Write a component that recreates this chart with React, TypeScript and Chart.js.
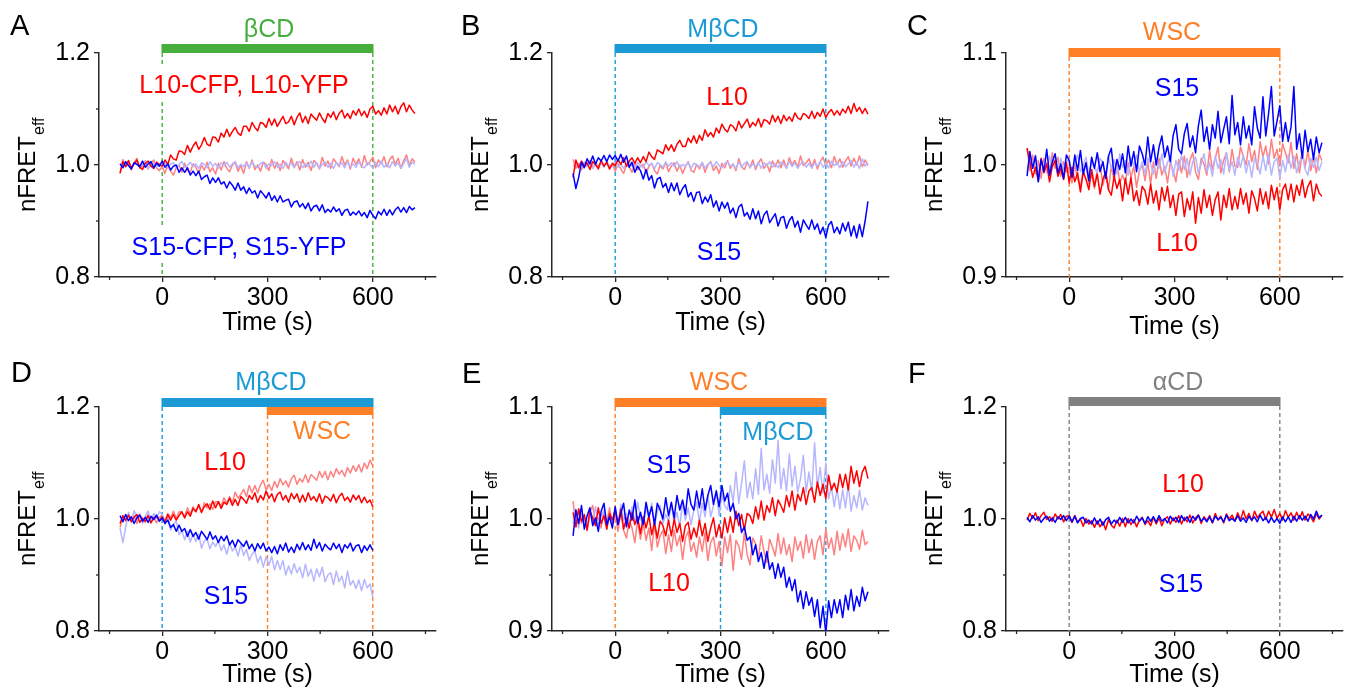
import { useEffect, useRef } from 'react';
import { Chart, registerables } from 'chart.js';

Chart.register(...registerables);

// ---------------- data ----------------
const TIME = [
  -120, -112, -104, -96, -88, -80, -72, -64, -56, -48, -40, -32, -24, -16, -8,
  0, 8, 16, 24, 32, 40, 48, 56, 64, 72,
  80, 88, 96, 104, 112, 120, 128, 136, 144, 152,
  160, 168, 176, 184, 192, 200, 208, 216, 224, 232,
  240, 248, 256, 264, 272, 280, 288, 296, 304, 312,
  320, 328, 336, 344, 352, 360, 368, 376, 384, 392,
  400, 408, 416, 424, 432, 440, 448, 456, 464, 472,
  480, 488, 496, 504, 512, 520, 528, 536, 544, 552,
  560, 568, 576, 584, 592, 600, 608, 616, 624, 632,
  640, 648, 656, 664, 672, 680, 688, 696, 704, 712, 720,
];

const X_MAJOR = [0, 300, 600];
const X_MINOR = [-150, 150, 450, 750];
const Y_MAJOR_WIDE = [0.8, 1.0, 1.2];
const Y_MINOR_WIDE = [0.9, 1.1];
const Y_MAJOR_NARROW = [0.9, 1.0, 1.1];
const Y_MINOR_NARROW = [0.95, 1.05];

// Panel A (βCD)
const A_L10 = [
  0.986, 1.006, 0.997, 1.008, 0.995, 1.002, 1.009, 0.996, 0.992, 1.003, 1.007, 0.998, 0.994, 1.005, 1.001,
  0.998, 1.009, 1.001, 1.018, 1.011, 1.009, 1.025, 1.024, 1.019, 1.035,
  1.023, 1.034, 1.041, 1.028, 1.036, 1.049, 1.037, 1.034, 1.05, 1.049,
  1.041, 1.057, 1.05, 1.064, 1.051, 1.06, 1.067, 1.057, 1.053, 1.069,
  1.069, 1.06, 1.076, 1.067, 1.061, 1.076, 1.074, 1.067, 1.083, 1.071,
  1.082, 1.069, 1.078, 1.087, 1.074, 1.077, 1.087, 1.072, 1.085, 1.093,
  1.076, 1.087, 1.074, 1.091, 1.085, 1.08, 1.093, 1.083, 1.076, 1.092,
  1.085, 1.095, 1.081, 1.092, 1.098, 1.084, 1.092, 1.083, 1.097, 1.089,
  1.1, 1.088, 1.096, 1.085, 1.1, 1.105, 1.091, 1.097, 1.089, 1.102,
  1.091, 1.107, 1.095, 1.105, 1.091, 1.104, 1.111, 1.095, 1.107, 1.098, 1.092,
];
const A_S15 = [
  1.002, 0.995, 1.006, 0.999, 0.993, 1.004, 1.001, 0.997, 1.007, 0.996, 1.002, 1.006, 0.995, 1.003, 0.998,
  1.007, 0.996, 1.002, 0.991, 0.998, 1.0, 0.987, 0.995, 0.987, 0.995,
  0.982, 0.989, 0.981, 0.989, 0.974, 0.979, 0.982, 0.967, 0.977, 0.969,
  0.977, 0.966, 0.97, 0.959, 0.97, 0.964, 0.955, 0.968, 0.955, 0.961,
  0.949, 0.959, 0.95, 0.954, 0.941, 0.954, 0.948, 0.941, 0.951, 0.937,
  0.945, 0.934, 0.945, 0.934, 0.937, 0.939, 0.925, 0.934, 0.936, 0.925,
  0.931, 0.922, 0.932, 0.918, 0.926, 0.928, 0.918, 0.929, 0.915, 0.921,
  0.916, 0.925, 0.917, 0.922, 0.91, 0.919, 0.921, 0.91, 0.916, 0.911,
  0.918, 0.909, 0.915, 0.906, 0.919, 0.91, 0.904, 0.917, 0.911, 0.921,
  0.91, 0.92, 0.911, 0.92, 0.925, 0.916, 0.924, 0.915, 0.926, 0.92, 0.924,
];
const A_L10_REF = [
  0.984, 1.01, 0.997, 1.006, 0.991, 1.004, 1.012, 0.994, 0.998, 1.008, 0.993, 1.003, 1.009, 0.995, 0.99,
  0.998, 0.985, 1.002, 0.989, 0.982, 0.995, 1.0, 0.987, 1.003, 0.99,
  0.987, 1.002, 0.996, 0.985, 1.0, 0.991, 1.005, 0.988, 0.995, 0.984,
  1.003, 0.991, 1.006, 0.994, 0.988, 1.0, 1.005, 0.989, 0.999, 0.985,
  1.006, 0.994, 1.009, 0.992, 1.0, 0.989, 1.005, 1.001, 0.99, 1.01,
  0.994, 1.005, 0.99, 1.008, 1.001, 0.993, 1.012, 0.996, 1.006, 0.991,
  1.01, 0.996, 1.005, 0.99, 1.008, 1.003, 0.993, 1.014, 0.998, 1.007,
  0.994, 1.011, 1.004, 0.997, 1.015, 1.0, 1.009, 0.993, 1.012, 1.001,
  1.011, 0.996, 1.017, 1.0, 1.006, 1.014, 0.995, 1.009, 1.002, 1.015,
  0.997, 1.01, 1.016, 1.001, 1.012, 0.994, 1.008, 1.018, 0.999, 1.011, 1.005,
];
const A_S15_REF = [
  1.003, 0.996, 1.005, 0.999, 0.994, 1.002, 1.004, 0.997, 1.001, 1.006, 0.995, 0.998, 1.004, 0.996, 1.002,
  0.997, 1.005, 0.994, 1.002, 1.004, 0.995, 1.001, 1.006, 0.996, 0.999,
  1.005, 0.997, 1.002, 0.994, 1.004, 1.001, 0.995, 1.006, 0.998, 1.003,
  0.994, 1.004, 0.999, 1.005, 0.996, 1.002, 1.006, 0.995, 1.001, 0.997,
  1.004, 0.995, 1.006, 0.998, 0.996, 1.003, 1.005, 0.994, 1.002, 0.999,
  1.006, 0.996, 1.001, 0.994, 1.005, 0.998, 1.004, 0.995, 1.003, 1.006,
  0.995, 1.002, 0.997, 1.007, 0.996, 1.004, 0.994, 1.001, 1.005, 0.996,
  1.003, 0.994, 1.005, 0.999, 1.004, 0.995, 1.006, 0.997, 1.002, 0.996,
  1.006, 0.998, 0.995, 1.004, 1.001, 0.994, 1.005, 0.997, 1.007, 0.996,
  1.002, 0.995, 1.006, 0.998, 1.004, 0.994, 1.003, 1.012, 0.996, 1.005, 1.001,
];

// Panel B (MβCD)
const B_L10 = [
  0.978, 1.009, 0.995, 1.007, 0.997, 1.004, 0.992, 1.006, 1.001, 0.994, 1.008, 0.998, 1.005, 0.993, 1.003,
  0.999, 1.01, 1.001, 1.013, 0.998, 1.007, 1.013, 1.003, 1.013, 1.004,
  1.015, 1.006, 1.023, 1.015, 1.01, 1.027, 1.024, 1.02, 1.036, 1.026,
  1.036, 1.024, 1.037, 1.044, 1.033, 1.033, 1.048, 1.04, 1.052, 1.039,
  1.053, 1.044, 1.063, 1.051, 1.058, 1.05, 1.066, 1.057, 1.073, 1.064,
  1.059, 1.072, 1.069, 1.061, 1.078, 1.066, 1.074, 1.082, 1.067, 1.076,
  1.07, 1.083, 1.068, 1.081, 1.079, 1.073, 1.089, 1.077, 1.087, 1.074,
  1.089, 1.079, 1.086, 1.078, 1.093, 1.084, 1.081, 1.092, 1.089, 1.083,
  1.096, 1.083, 1.094, 1.087, 1.1, 1.085, 1.094, 1.099, 1.089, 1.097,
  1.089, 1.1, 1.093, 1.105, 1.092, 1.11, 1.096, 1.103, 1.092, 1.101, 1.091,
];
const B_S15 = [
  0.985, 0.958, 0.978, 1.005, 0.995, 1.011, 1.002, 1.016, 1.002, 1.013, 1.007, 1.017, 1.006, 1.018, 1.01,
  1.017, 1.007, 1.019, 1.005, 1.016, 0.996, 1.005, 0.987, 0.998, 0.99,
  0.975, 0.992, 0.973, 0.981, 0.959, 0.975, 0.978, 0.96, 0.967, 0.951,
  0.968, 0.954, 0.968, 0.947, 0.958, 0.965, 0.943, 0.951, 0.935, 0.951,
  0.952, 0.931, 0.943, 0.934, 0.947, 0.925, 0.936, 0.918, 0.934, 0.923,
  0.933, 0.914, 0.923, 0.906, 0.925, 0.93, 0.909, 0.915, 0.903, 0.922,
  0.904, 0.918, 0.895, 0.911, 0.918, 0.897, 0.905, 0.913, 0.891, 0.906,
  0.908, 0.887, 0.901, 0.908, 0.889, 0.9, 0.88, 0.902, 0.893, 0.885,
  0.902, 0.885, 0.895, 0.877, 0.889, 0.871, 0.893, 0.899, 0.879, 0.889,
  0.877, 0.896, 0.882, 0.898, 0.873, 0.891, 0.87, 0.894, 0.872, 0.9, 0.935,
];
const B_L10_REF = [
  1.01, 0.994, 1.003, 0.991, 1.005, 0.998, 1.008, 0.995, 1.001, 0.992, 1.006, 0.997, 1.004, 0.993, 1.002,
  0.989, 1.002, 0.993, 0.985, 1.0, 0.996, 0.987, 1.004, 0.991, 0.998,
  1.001, 0.986, 0.997, 1.003, 0.99, 0.984, 0.999, 0.993, 1.005, 0.988,
  0.998, 1.004, 0.989, 1.0, 0.985, 0.997, 1.006, 0.991, 0.987, 1.001,
  0.993, 1.004, 0.987, 1.0, 1.006, 0.99, 0.998, 0.985, 1.003, 0.995,
  1.008, 0.994, 1.002, 0.99, 1.011, 0.997, 0.992, 1.005, 0.995, 1.009,
  0.992, 1.004, 1.011, 0.994, 1.002, 0.988, 1.007, 0.997, 1.009, 0.995,
  1.009, 0.994, 1.013, 1.001, 1.008, 0.996, 1.016, 0.999, 1.004, 1.011,
  0.997, 1.01, 0.993, 1.006, 1.014, 0.999, 1.009, 0.995, 1.015, 1.001,
  1.011, 0.996, 1.007, 1.015, 0.998, 1.012, 1.0, 1.016, 0.997, 1.009, 0.999,
];
const B_S15_REF = [
  0.998, 1.004, 0.995, 1.001, 1.005, 0.997, 1.002, 0.994, 1.004, 0.999, 1.003, 0.996, 1.006, 0.998, 1.001,
  1.005, 0.996, 1.002, 0.994, 1.003, 1.006, 0.998, 0.995, 1.004, 0.999,
  0.995, 1.006, 0.999, 1.003, 0.994, 1.004, 1.001, 0.996, 1.005, 0.998,
  1.004, 0.997, 1.006, 0.995, 1.001, 0.998, 1.005, 0.994, 1.003, 1.001,
  0.996, 1.005, 0.994, 1.002, 1.004, 0.997, 1.006, 0.999, 0.995, 1.003,
  1.006, 0.998, 1.001, 0.994, 1.005, 0.996, 1.003, 1.006, 0.995, 1.002,
  0.997, 1.005, 0.994, 1.004, 0.999, 1.006, 0.996, 1.002, 0.995, 1.005,
  1.001, 0.995, 1.006, 0.997, 1.004, 0.994, 1.002, 1.005, 0.996, 1.003,
  0.994, 1.004, 0.998, 1.006, 0.996, 1.003, 0.995, 1.007, 0.999, 1.004,
  0.995, 1.006, 0.997, 1.002, 1.008, 0.996, 1.005, 0.994, 1.011, 0.998, 1.004,
];

// Panel C (WSC)
const C_S15 = [
  0.99, 1.012, 0.997, 1.008, 0.985, 1.005, 0.994, 1.014, 0.991, 1.003, 1.01, 0.993, 1.001, 0.988, 1.009,
  1.004, 0.989, 1.009, 0.995, 1.013, 0.992, 1.002, 0.986, 1.007, 0.997,
  1.011, 0.994, 1.003, 0.988, 1.008, 1.015, 0.991, 1.005, 0.996, 1.01,
  0.993, 1.017, 0.999, 1.012, 0.994, 1.017, 1.01, 1.0, 1.025, 1.003,
  1.018, 1.0, 1.016, 1.026, 1.007, 1.017, 1.003, 1.026, 1.036, 1.014,
  1.01, 1.028, 1.037, 1.016, 1.026, 1.011, 1.035, 1.049, 1.021, 1.034,
  1.014, 1.036, 1.024, 1.048, 1.02, 1.032, 1.043, 1.019, 1.062, 1.027,
  1.038, 1.018, 1.043, 1.024, 1.035, 1.018, 1.052, 1.033, 1.024, 1.061,
  1.026, 1.046, 1.07, 1.026, 1.039, 1.053, 1.021, 1.038, 1.021, 1.034,
  1.07, 1.014, 1.028, 1.006, 1.031, 1.012, 1.023, 1.005, 1.025, 1.011, 1.02,
];
const C_L10 = [
  1.015, 1.003, 0.989, 0.998, 0.986, 1.006, 0.993, 1.001, 0.985, 0.999, 1.004, 0.99, 0.997, 0.987, 1.002,
  0.984, 0.998, 0.985, 0.993, 0.976, 0.994, 0.987, 0.978, 0.996, 0.981,
  0.992, 0.974, 0.987, 0.994, 0.978, 0.973, 0.99, 0.979, 0.987, 0.968,
  0.988, 0.974, 0.989, 0.968, 0.977, 0.964, 0.981, 0.977, 0.965, 0.983,
  0.966, 0.977, 0.96, 0.98, 0.968, 0.981, 0.962, 0.973, 0.955, 0.974,
  0.976, 0.954, 0.97, 0.96, 0.976, 0.948, 0.971, 0.957, 0.978, 0.962,
  0.973, 0.955, 0.969, 0.976, 0.951, 0.973, 0.962, 0.979, 0.96, 0.972,
  0.961, 0.979, 0.965, 0.975, 0.957, 0.977, 0.97, 0.959, 0.979, 0.965,
  0.976, 0.961, 0.982, 0.969, 0.98, 0.96, 0.978, 0.983, 0.969, 0.983,
  0.967, 0.982, 0.973, 0.987, 0.971, 0.981, 0.986, 0.968, 0.983, 0.975, 0.972,
];
const C_L10_REF = [
  1.015, 0.995, 1.009, 0.992, 1.004, 0.988, 1.006, 1.001, 0.991, 1.011, 0.997, 1.007, 0.99, 1.003, 0.994,
  0.998, 0.984, 1.001, 0.987, 0.981, 0.995, 1.002, 0.983, 0.992, 0.979,
  0.996, 1.0, 0.982, 0.993, 0.978, 0.999, 0.986, 1.003, 0.984, 0.991,
  0.984, 1.002, 0.989, 0.999, 0.98, 0.995, 1.0, 0.986, 1.003, 0.983,
  1.003, 0.988, 1.006, 0.991, 0.999, 0.984, 1.002, 0.995, 0.985, 1.005,
  0.993, 1.008, 0.989, 1.004, 1.011, 0.994, 0.987, 1.006, 1.001, 0.991,
  1.013, 0.996, 1.006, 1.016, 0.993, 1.004, 1.011, 0.994, 1.014, 0.999,
  0.998, 1.016, 1.008, 1.0, 1.019, 1.003, 1.013, 0.996, 1.021, 1.007,
  1.017, 1.001, 1.023, 1.006, 1.014, 0.999, 1.019, 1.011, 1.002, 1.02,
  0.997, 1.01, 0.993, 1.012, 0.998, 1.013, 0.995, 1.007, 0.993, 1.01, 1.004,
];
const C_S15_REF = [
  0.994, 1.007, 0.997, 1.009, 0.991, 1.004, 1.001, 0.993, 1.008, 0.998, 1.005, 0.99, 1.006, 0.996, 1.003,
  1.005, 0.992, 1.002, 1.009, 0.994, 0.999, 1.007, 0.991, 1.004, 0.997,
  0.993, 1.006, 1.002, 0.99, 1.008, 0.997, 1.005, 0.992, 1.01, 0.998,
  1.004, 0.991, 1.007, 0.999, 1.009, 0.994, 1.003, 0.992, 1.006, 1.001,
  0.992, 1.005, 0.997, 1.01, 0.993, 1.002, 1.008, 0.99, 1.004, 0.995,
  1.009, 0.996, 1.006, 0.991, 1.003, 1.007, 0.993, 1.001, 1.01, 0.994,
  1.002, 0.99, 1.008, 0.997, 1.005, 0.992, 1.011, 0.995, 1.003, 0.991,
  1.007, 0.998, 1.009, 0.993, 1.004, 0.989, 1.006, 1.001, 0.992, 1.008,
  0.995, 1.01, 0.991, 1.003, 1.006, 0.988, 1.004, 0.994, 1.009, 0.997,
  1.008, 0.993, 1.002, 1.01, 0.996, 0.991, 1.006, 0.998, 1.007, 0.995, 1.003,
];

// Panel D (MβCD then WSC), recorded to 600 s
const D_L10 = [
  0.992, 1.006, 0.998, 1.007, 0.995, 1.003, 1.008, 0.994, 1.001, 0.996, 1.006, 0.993, 1.002, 1.005, 0.997,
  1.004, 0.994, 1.008, 0.998, 1.008, 0.998, 1.006, 1.013, 1.002, 1.013,
  1.005, 1.019, 1.013, 1.026, 1.012, 1.022, 1.027, 1.017, 1.032, 1.02,
  1.031, 1.019, 1.03, 1.026, 1.037, 1.024, 1.035, 1.024, 1.04, 1.035,
  1.028, 1.042, 1.035, 1.047, 1.03, 1.042, 1.034, 1.05, 1.037, 1.045,
  1.031, 1.044, 1.048, 1.034, 1.042, 1.03, 1.046, 1.036, 1.045, 1.03,
  1.043, 1.031, 1.047, 1.034, 1.04, 1.031, 1.045, 1.028, 1.041, 1.038,
  1.032, 1.044, 1.029, 1.04, 1.046, 1.033, 1.039, 1.03, 1.043, 1.034,
  1.042, 1.029, 1.039, 1.029, 1.034, 1.022,
];
const D_S15 = [
  1.006, 0.995, 1.008, 0.997, 1.004, 0.992, 1.002, 1.007, 0.996, 1.003, 0.994, 1.005, 0.999, 1.007, 0.996,
  1.002, 0.992, 0.998, 0.985, 0.99, 0.978, 0.989, 0.978, 0.983, 0.969,
  0.981, 0.969, 0.976, 0.964, 0.978, 0.971, 0.963, 0.977, 0.964, 0.97,
  0.958, 0.969, 0.961, 0.97, 0.954, 0.962, 0.95, 0.963, 0.957, 0.951,
  0.961, 0.947, 0.955, 0.943, 0.956, 0.947, 0.957, 0.943, 0.95, 0.94,
  0.951, 0.938, 0.954, 0.944, 0.957, 0.941, 0.95, 0.94, 0.955, 0.945,
  0.958, 0.945, 0.954, 0.944, 0.964, 0.948, 0.958, 0.943, 0.955, 0.949,
  0.945, 0.957, 0.947, 0.955, 0.94, 0.954, 0.948, 0.957, 0.943, 0.952,
  0.954, 0.94, 0.952, 0.944, 0.954, 0.944,
];
const D_L10_REF = [
  0.985, 1.005, 0.996, 1.009, 0.997, 1.006, 0.992, 1.007, 1.002, 0.994, 1.008, 0.998, 1.004, 0.993, 1.003,
  1.007, 0.997, 1.01, 1.002, 1.014, 1.001, 1.013, 1.012, 1.004, 1.02,
  1.009, 1.022, 1.013, 1.024, 1.011, 1.029, 1.02, 1.027, 1.017, 1.031,
  1.031, 1.023, 1.038, 1.028, 1.04, 1.029, 1.048, 1.037, 1.044, 1.053,
  1.04, 1.06, 1.047, 1.06, 1.047, 1.061, 1.069, 1.052, 1.062, 1.051,
  1.067, 1.056, 1.072, 1.061, 1.068, 1.057, 1.072, 1.078, 1.062, 1.072,
  1.066, 1.079, 1.065, 1.079, 1.075, 1.069, 1.085, 1.074, 1.085, 1.07,
  1.085, 1.075, 1.09, 1.08, 1.087, 1.076, 1.092, 1.082, 1.095, 1.085,
  1.097, 1.084, 1.1, 1.09, 1.105, 1.095,
];
const D_S15_REF = [
  0.984, 0.958, 0.985, 1.012, 0.994, 1.015, 1.002, 1.009, 0.992, 1.005, 1.014, 0.996, 1.01, 1.001, 1.013,
  1.008, 0.991, 1.005, 0.98, 0.99, 0.996, 0.972, 0.979, 0.963, 0.979,
  0.959, 0.973, 0.96, 0.973, 0.948, 0.961, 0.964, 0.947, 0.959, 0.951,
  0.961, 0.944, 0.954, 0.937, 0.957, 0.943, 0.95, 0.934, 0.954, 0.935,
  0.946, 0.926, 0.937, 0.943, 0.922, 0.934, 0.914, 0.933, 0.918, 0.933,
  0.909, 0.926, 0.91, 0.926, 0.9, 0.916, 0.902, 0.92, 0.904, 0.914,
  0.895, 0.919, 0.898, 0.91, 0.889, 0.911, 0.897, 0.914, 0.888, 0.9,
  0.904, 0.883, 0.907, 0.888, 0.898, 0.877, 0.907, 0.882, 0.89, 0.876,
  0.891, 0.872, 0.892, 0.877, 0.884, 0.86,
];

// Panel E (WSC then MβCD)
const E_S15 = [
  0.985, 1.008, 0.996, 1.012, 0.991, 1.003, 1.01, 0.994, 1.001, 0.989, 1.007, 1.014, 0.995, 1.002, 0.992,
  1.011, 0.995, 1.005, 1.014, 0.993, 1.008, 0.999, 1.017, 0.996, 1.006,
  0.995, 1.015, 1.002, 1.011, 0.995, 1.014, 1.008, 1.0, 1.019, 1.003,
  1.015, 1.001, 1.021, 1.008, 1.017, 1.004, 1.027, 1.013, 1.008, 1.025,
  1.01, 1.027, 1.008, 1.021, 1.03, 1.013, 1.025, 1.011, 1.03, 1.016,
  1.023, 1.007, 1.014, 1.0, 1.005, 0.988, 0.993, 0.981, 0.984, 0.968,
  0.977, 0.962, 0.97, 0.956, 0.971, 0.955, 0.961, 0.947, 0.96, 0.948,
  0.957, 0.939, 0.948, 0.936, 0.946, 0.926, 0.936, 0.92, 0.935, 0.923,
  0.93, 0.913, 0.928, 0.903, 0.922, 0.898, 0.927, 0.912, 0.928, 0.916,
  0.928, 0.912, 0.932, 0.919, 0.937, 0.918, 0.931, 0.922, 0.939, 0.927, 0.935,
];
const E_L10 = [
  1.006, 0.993, 1.009, 0.998, 1.004, 0.99, 1.007, 1.001, 0.994, 1.01, 0.996, 1.003, 0.991, 1.005, 0.999,
  1.008, 0.995, 1.009, 0.991, 1.001, 0.992, 1.006, 0.995, 1.002, 0.987,
  1.002, 0.992, 1.003, 0.986, 0.997, 0.983, 0.998, 0.994, 0.985, 0.999,
  0.985, 1.0, 0.988, 0.996, 0.98, 0.994, 0.997, 0.982, 0.992, 0.984,
  0.999, 0.985, 0.996, 0.98, 0.992, 1.001, 0.984, 0.995, 0.983, 1.001,
  0.988, 1.002, 0.988, 1.007, 0.994, 1.004, 0.99, 1.005, 1.003, 0.996,
  1.011, 1.0, 1.016, 0.999, 1.012, 1.006, 1.019, 1.003, 1.017, 1.012,
  1.006, 1.021, 1.011, 1.025, 1.008, 1.022, 1.016, 1.028, 1.013, 1.025,
  1.028, 1.015, 1.033, 1.021, 1.031, 1.018, 1.039, 1.026, 1.032, 1.024,
  1.04, 1.028, 1.04, 1.026, 1.047, 1.032, 1.043, 1.029, 1.042, 1.047, 1.036,
];
const E_L10_REF = [
  1.016, 0.993, 1.009, 0.996, 1.003, 0.99, 1.006, 1.012, 0.995, 1.001, 0.992, 1.007, 0.997, 1.01, 0.994,
  1.005, 0.989, 1.006, 0.99, 0.983, 0.999, 0.992, 0.979, 0.999, 0.982,
  0.996, 0.981, 0.992, 0.972, 0.996, 0.975, 0.985, 0.99, 0.969, 0.986,
  0.971, 0.99, 0.976, 0.985, 0.964, 0.983, 0.989, 0.971, 0.979, 0.966,
  0.984, 0.971, 0.988, 0.963, 0.979, 0.984, 0.967, 0.98, 0.958, 0.984,
  0.97, 0.986, 0.954, 0.981, 0.976, 0.964, 0.988, 0.968, 0.959, 0.983,
  0.978, 0.965, 0.985, 0.971, 0.961, 0.982, 0.975, 0.967, 0.987, 0.969,
  0.983, 0.968, 0.977, 0.962, 0.984, 0.972, 0.98, 0.965, 0.986, 0.97,
  0.982, 0.964, 0.98, 0.985, 0.968, 0.991, 0.974, 0.983, 0.968, 0.989,
  0.972, 0.987, 0.975, 0.991, 0.971, 0.985, 0.981, 0.973, 0.99, 0.977, 0.98,
];
const E_S15_REF = [
  0.996, 1.009, 0.992, 1.005, 1.001, 0.99, 1.007, 0.997, 1.011, 0.994, 1.002, 1.008, 0.991, 1.004, 0.998,
  1.009, 0.994, 1.013, 0.999, 1.005, 0.992, 1.011, 0.997, 1.015, 1.0,
  0.995, 1.01, 1.001, 1.014, 0.993, 1.007, 1.012, 0.996, 1.004, 0.998,
  1.013, 0.997, 1.006, 0.993, 1.016, 0.999, 1.01, 0.995, 1.008, 1.015,
  0.997, 1.014, 1.002, 1.021, 1.002, 1.012, 1.026, 1.003, 1.022, 1.012,
  1.008, 1.03, 1.015, 1.042, 1.014, 1.032, 1.052, 1.019, 1.033, 1.018,
  1.045, 1.022, 1.063, 1.026, 1.04, 1.023, 1.053, 1.032, 1.07, 1.027,
  1.045, 1.025, 1.058, 1.029, 1.047, 1.024, 1.036, 1.057, 1.024, 1.042,
  1.024, 1.068, 1.028, 1.046, 1.023, 1.05, 1.018, 1.029, 1.011, 1.027,
  1.009, 1.026, 1.01, 1.031, 1.007, 1.021, 1.01, 1.026, 1.008, 1.019, 1.012,
];

// Panel F (αCD)
const F_L10 = [
  0.998, 1.01, 1.001, 1.011, 0.997, 1.006, 1.012, 0.999, 1.004, 0.996, 1.009, 1.0, 1.008, 0.995, 1.005,
  1.006, 0.994, 1.006, 0.994, 1.0, 0.987, 1.001, 0.991, 0.997, 0.985,
  0.997, 0.986, 0.995, 0.981, 0.999, 0.989, 0.984, 0.998, 0.987, 1.001,
  0.986, 1.001, 0.99, 0.999, 0.986, 0.998, 1.003, 0.99, 0.997, 0.988,
  1.003, 0.991, 1.002, 0.988, 1.0, 1.004, 0.991, 1.002, 0.994, 1.006,
  0.991, 1.003, 0.995, 1.007, 0.993, 1.002, 1.007, 0.992, 1.004, 0.997,
  1.006, 0.993, 1.01, 0.998, 1.005, 0.993, 1.009, 1.0, 1.007, 0.996,
  1.011, 0.998, 1.015, 1.0, 1.01, 0.997, 1.014, 1.002, 1.009, 1.014,
  0.999, 1.014, 1.003, 1.017, 1.001, 1.01, 0.998, 1.015, 1.003, 1.011,
  0.998, 1.012, 1.0, 1.013, 0.998, 1.009, 1.004, 0.995, 1.01, 1.0, 1.007,
];
const F_S15 = [
  1.003, 0.995, 1.006, 0.998, 1.004, 0.994, 1.001, 1.005, 0.996, 1.002, 0.994, 1.004, 0.999, 1.006, 0.997,
  1.005, 0.995, 1.005, 0.993, 1.001, 1.003, 0.993, 0.998, 0.991, 1.002,
  0.991, 1.0, 0.989, 0.999, 1.003, 0.991, 0.998, 0.993, 1.003, 0.994,
  1.003, 0.993, 1.0, 0.993, 1.005, 0.996, 1.002, 0.992, 1.004, 0.996,
  1.004, 0.994, 1.006, 0.996, 1.001, 0.993, 1.005, 0.997, 1.003, 0.994,
  1.006, 0.997, 1.004, 0.994, 1.005, 0.998, 1.007, 0.996, 1.002, 0.995,
  1.004, 0.994, 1.005, 0.999, 1.003, 0.995, 1.007, 0.997, 1.001, 0.996,
  1.006, 0.996, 1.002, 0.994, 1.005, 0.998, 1.004, 0.995, 1.007, 0.997,
  1.003, 0.993, 1.003, 0.994, 1.001, 0.992, 1.004, 0.995, 1.004, 0.994,
  1.005, 0.996, 1.006, 0.998, 1.005, 0.996, 1.008, 1.0, 1.014, 1.002, 1.007,
];

// ---------------- styles ----------------
const FONT = '"Liberation Sans", Arial, Helvetica, sans-serif';
const RED = '#ff0000';
const BLUE = '#0000ff';
const PINK = '#ff8080';
const LAVENDER = '#b6b6ff';
const GREEN = '#45ae3c';
const CYAN = '#1b9ad6';
const ORANGE = '#ff7f27';
const GREY = '#808080';
const AXIS = '#262626';

type Series = { data: number[]; color: string };
type Bar = { from: number; to: number; y0: number; y1: number; color: string };
type Dash = { at: number; y0: number; color: string };
type Label = { text: string; cx: number; by: number; color: string; bg?: boolean };
type Panel = {
  id: string;
  ox: number;
  oy: number;
  letterX: number;
  letterY: number;
  timeY: number;
  yMin: number;
  yMax: number;
  yMajor: number[];
  yMinor: number[];
  series: Series[];
  bars: Bar[];
  dashes: Dash[];
  labels: Label[];
};

const CW = 450;
const CH = 345;

const PANELS: Panel[] = [
  {
    id: 'A', ox: 0, oy: 0, letterX: 10, letterY: 35, timeY: 330,
    yMin: 0.8, yMax: 1.2, yMajor: Y_MAJOR_WIDE, yMinor: Y_MINOR_WIDE,
    series: [
      { data: A_S15, color: BLUE }, { data: A_L10, color: RED },
      { data: A_S15_REF, color: LAVENDER }, { data: A_L10_REF, color: PINK },
    ],
    bars: [{ from: 0, to: 600, y0: 44, y1: 53, color: GREEN }],
    dashes: [{ at: 0, y0: 53, color: GREEN }, { at: 600, y0: 53, color: GREEN }],
    labels: [
      { text: 'βCD', cx: 269, by: 37, color: GREEN },
      { text: 'L10-CFP, L10-YFP', cx: 244, by: 93, color: RED, bg: true },
      { text: 'S15-CFP, S15-YFP', cx: 239, by: 255, color: BLUE, bg: true },
    ],
  },
  {
    id: 'B', ox: 453, oy: 0, letterX: 461, letterY: 35, timeY: 330,
    yMin: 0.8, yMax: 1.2, yMajor: Y_MAJOR_WIDE, yMinor: Y_MINOR_WIDE,
    series: [
      { data: B_S15, color: BLUE }, { data: B_L10, color: RED },
      { data: B_S15_REF, color: LAVENDER }, { data: B_L10_REF, color: PINK },
    ],
    bars: [{ from: 0, to: 600, y0: 44, y1: 53, color: CYAN }],
    dashes: [{ at: 0, y0: 53, color: CYAN }, { at: 600, y0: 53, color: CYAN }],
    labels: [
      { text: 'MβCD', cx: 723, by: 37, color: CYAN },
      { text: 'L10', cx: 727, by: 105, color: RED },
      { text: 'S15', cx: 719, by: 260, color: BLUE },
    ],
  },
  {
    id: 'C', ox: 907, oy: 0, letterX: 907, letterY: 35, timeY: 334,
    yMin: 0.9, yMax: 1.1, yMajor: Y_MAJOR_NARROW, yMinor: Y_MINOR_NARROW,
    series: [
      { data: C_S15, color: BLUE }, { data: C_L10, color: RED },
      { data: C_S15_REF, color: LAVENDER }, { data: C_L10_REF, color: PINK },
    ],
    bars: [{ from: 0, to: 600, y0: 48, y1: 57, color: ORANGE }],
    dashes: [{ at: 0, y0: 57, color: ORANGE }, { at: 600, y0: 57, color: ORANGE }],
    labels: [
      { text: 'WSC', cx: 1172, by: 40, color: ORANGE },
      { text: 'S15', cx: 1177, by: 96, color: BLUE },
      { text: 'L10', cx: 1177, by: 251, color: RED },
    ],
  },
  {
    id: 'D', ox: 0, oy: 354, letterX: 11, letterY: 382, timeY: 682,
    yMin: 0.8, yMax: 1.2, yMajor: Y_MAJOR_WIDE, yMinor: Y_MINOR_WIDE,
    series: [
      { data: D_S15, color: BLUE }, { data: D_L10, color: RED },
      { data: D_S15_REF, color: LAVENDER }, { data: D_L10_REF, color: PINK },
    ],
    bars: [
      { from: 0, to: 600, y0: 398, y1: 407, color: CYAN },
      { from: 300, to: 600, y0: 407, y1: 415, color: ORANGE },
    ],
    dashes: [
      { at: 0, y0: 407, color: CYAN },
      { at: 300, y0: 415, color: ORANGE },
      { at: 600, y0: 415, color: ORANGE },
    ],
    labels: [
      { text: 'MβCD', cx: 271, by: 390, color: CYAN },
      { text: 'WSC', cx: 322, by: 439, color: ORANGE },
      { text: 'L10', cx: 225, by: 470, color: RED },
      { text: 'S15', cx: 226, by: 604, color: BLUE },
    ],
  },
  {
    id: 'E', ox: 453, oy: 354, letterX: 462, letterY: 383, timeY: 682,
    yMin: 0.9, yMax: 1.1, yMajor: Y_MAJOR_NARROW, yMinor: Y_MINOR_NARROW,
    series: [
      { data: E_S15, color: BLUE }, { data: E_L10, color: RED },
      { data: E_S15_REF, color: LAVENDER }, { data: E_L10_REF, color: PINK },
    ],
    bars: [
      { from: 0, to: 600, y0: 398, y1: 407, color: ORANGE },
      { from: 300, to: 600, y0: 407, y1: 415, color: CYAN },
    ],
    dashes: [
      { at: 0, y0: 407, color: ORANGE },
      { at: 300, y0: 415, color: CYAN },
      { at: 600, y0: 415, color: CYAN },
    ],
    labels: [
      { text: 'WSC', cx: 719, by: 390, color: ORANGE },
      { text: 'MβCD', cx: 778, by: 440, color: CYAN },
      { text: 'S15', cx: 669, by: 473, color: BLUE },
      { text: 'L10', cx: 669, by: 591, color: RED },
    ],
  },
  {
    id: 'F', ox: 907, oy: 354, letterX: 908, letterY: 383, timeY: 682,
    yMin: 0.8, yMax: 1.2, yMajor: Y_MAJOR_WIDE, yMinor: Y_MINOR_WIDE,
    series: [{ data: F_S15, color: BLUE }, { data: F_L10, color: RED }],
    bars: [{ from: 0, to: 600, y0: 397, y1: 406, color: GREY }],
    dashes: [{ at: 0, y0: 406, color: GREY }, { at: 600, y0: 406, color: GREY }],
    labels: [
      { text: 'αCD', cx: 1178, by: 390, color: GREY },
      { text: 'L10', cx: 1183, by: 492, color: RED },
      { text: 'S15', cx: 1181, by: 592, color: BLUE },
    ],
  },
];

function makeDecor(p: Panel) {
  return {
    id: 'decor' + p.id,
    beforeDatasetsDraw(chart: any) {
      const ctx = chart.ctx as CanvasRenderingContext2D;
      const xs = chart.scales.x;
      const area = chart.chartArea;
      ctx.save();
      ctx.lineWidth = 1.4;
      ctx.setLineDash([4, 3]);
      for (const d of p.dashes) {
        const x = xs.getPixelForValue(d.at);
        ctx.strokeStyle = d.color;
        ctx.beginPath();
        ctx.moveTo(x, d.y0 - p.oy);
        ctx.lineTo(x, area.bottom);
        ctx.stroke();
      }
      ctx.restore();
    },
    afterDatasetsDraw(chart: any) {
      const ctx = chart.ctx as CanvasRenderingContext2D;
      const xs = chart.scales.x;
      ctx.save();
      for (const b of p.bars) {
        const x0 = xs.getPixelForValue(b.from);
        const x1 = xs.getPixelForValue(b.to);
        ctx.fillStyle = b.color;
        ctx.fillRect(x0 - 0.7, b.y0 - p.oy, x1 - x0 + 1.4, b.y1 - b.y0);
      }
      ctx.font = `25px ${FONT}`;
      ctx.textAlign = 'center';
      ctx.textBaseline = 'alphabetic';
      for (const l of p.labels) {
        const x = l.cx - p.ox;
        const y = l.by - p.oy;
        if (l.bg) {
          const w = ctx.measureText(l.text).width;
          ctx.fillStyle = '#ffffff';
          ctx.fillRect(x - w / 2 - 3, y - 28, w + 6, 36);
        }
        ctx.fillStyle = l.color;
        ctx.fillText(l.text, x, y);
      }
      ctx.restore();
    },
    afterDraw(chart: any) {
      const ctx = chart.ctx as CanvasRenderingContext2D;
      const xs = chart.scales.x;
      const ys = chart.scales.y;
      const area = chart.chartArea;
      ctx.save();
      ctx.strokeStyle = AXIS;
      ctx.lineWidth = 1.3;
      for (const v of X_MINOR) {
        const x = xs.getPixelForValue(v);
        ctx.beginPath();
        ctx.moveTo(x, area.bottom);
        ctx.lineTo(x, area.bottom + 3);
        ctx.stroke();
      }
      for (const v of p.yMinor) {
        const y = ys.getPixelForValue(v);
        ctx.beginPath();
        ctx.moveTo(area.left, y);
        ctx.lineTo(area.left - 3, y);
        ctx.stroke();
      }
      ctx.fillStyle = '#000';
      ctx.font = `29px ${FONT}`;
      ctx.textAlign = 'left';
      ctx.textBaseline = 'alphabetic';
      ctx.fillText(p.id, p.letterX - p.ox, p.letterY - p.oy);
      ctx.font = `25px ${FONT}`;
      ctx.textAlign = 'center';
      ctx.fillText('Time (s)', (area.left + area.right) / 2, p.timeY - p.oy);
      const cy = (area.top + area.bottom) / 2;
      ctx.translate(area.left - 64, cy + 47);
      ctx.rotate(-Math.PI / 2);
      ctx.textAlign = 'left';
      ctx.font = `24px ${FONT}`;
      ctx.fillText('nFRET', 0, 0);
      const w = ctx.measureText('nFRET').width;
      ctx.font = `16px ${FONT}`;
      ctx.fillText('eff', w + 1, 9);
      ctx.restore();
    },
  };
}

function PanelChart({ p }: { p: Panel }) {
  const ref = useRef<HTMLCanvasElement | null>(null);
  useEffect(() => {
    if (!ref.current) return;
    const datasets = p.series.map((s) => ({
      data: s.data.map((v, i) => ({ x: TIME[i], y: v })),
      borderColor: s.color,
      backgroundColor: s.color,
      borderWidth: 1.5,
      borderJoinStyle: 'round' as const,
      pointRadius: 0,
      tension: 0,
      fill: false,
    }));
    const chart = new Chart(ref.current, {
      type: 'line',
      data: { datasets },
      options: {
        animation: false,
        responsive: false,
        maintainAspectRatio: false,
        devicePixelRatio: 1,
        events: [],
        layout: { padding: { left: 0, right: 14, top: 53, bottom: 0 } },
        plugins: {
          legend: { display: false },
          tooltip: { enabled: false },
          title: { display: false },
        },
        scales: {
          x: {
            type: 'linear',
            min: -180,
            max: 780,
            afterBuildTicks: (s: any) => {
              s.ticks = X_MAJOR.map((v) => ({ value: v }));
            },
            afterFit: (s: any) => {
              s.height = 68;
            },
            ticks: {
              autoSkip: false,
              maxRotation: 0,
              minRotation: 0,
              padding: 1,
              color: '#000',
              font: { family: FONT, size: 25 },
              callback: (v: any) => String(v),
            },
            grid: {
              display: true,
              drawOnChartArea: false,
              drawTicks: true,
              tickLength: 5,
              color: AXIS,
              lineWidth: 1.3,
            },
            border: { display: true, color: AXIS, width: 1.5 },
          },
          y: {
            type: 'linear',
            min: p.yMin,
            max: p.yMax,
            afterBuildTicks: (s: any) => {
              s.ticks = p.yMajor.map((v) => ({ value: v }));
            },
            afterFit: (s: any) => {
              s.width = 99;
            },
            ticks: {
              autoSkip: false,
              padding: 4,
              color: '#000',
              font: { family: FONT, size: 25 },
              callback: (v: any) => Number(v).toFixed(1),
            },
            grid: {
              display: true,
              drawOnChartArea: false,
              drawTicks: true,
              tickLength: 5,
              color: AXIS,
              lineWidth: 1.3,
            },
            border: { display: true, color: AXIS, width: 1.5 },
          },
        },
      },
      plugins: [makeDecor(p)],
    });
    return () => chart.destroy();
  }, [p]);
  return (
    <canvas
      ref={ref}
      width={CW}
      height={CH}
      style={{ position: 'absolute', left: p.ox, top: p.oy, width: CW, height: CH, display: 'block' }}
    />
  );
}

export default function App() {
  return (
    <div
      style={{
        position: 'fixed',
        left: 0,
        top: 0,
        width: 1349,
        height: 690,
        overflow: 'hidden',
        background: '#ffffff',
      }}
    >
      {PANELS.map((p) => (
        <PanelChart key={p.id} p={p} />
      ))}
    </div>
  );
}
